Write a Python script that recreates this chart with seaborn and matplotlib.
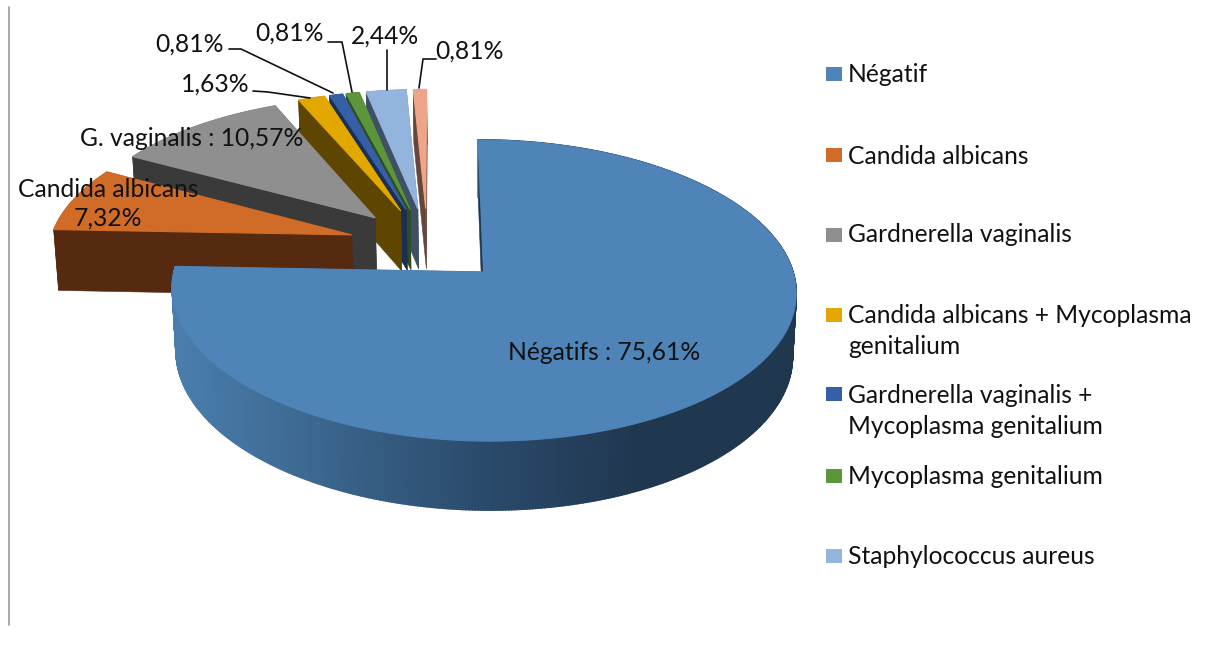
#!/usr/bin/env python3
import numpy as np
import seaborn as sns
import matplotlib
matplotlib.use('Agg')
import matplotlib.pyplot as plt

# slices, clockwise from 12 o'clock
shares = [75.61, 7.32, 10.57, 1.63, 0.81, 0.81, 2.44, 0.81]
legend_names = ['Négatif', 'Candida albicans', 'Gardnerella vaginalis',
                'Candida albicans + Mycoplasma\ngenitalium',
                'Gardnerella vaginalis +\nMycoplasma genitalium',
                'Mycoplasma genitalium', 'Staphylococcus aureus']
slice_labels = ['Négatifs : 75,61%', 'Candida albicans\n7,32%', 'G. vaginalis : 10,57%',
                '1,63%', '0,81%', '0,81%', '2,44%', '0,81%']
top_colors = ['#4f84b9', '#d06c28', '#8f8f8f', '#e2a800', '#3560a8', '#5c963c', '#93b4dc', '#eea68a']
wall_colors = ['#203750', '#552a10', '#3a3a3a', '#5e4600', '#1b2f55', '#2f4d1f', '#3f5064', '#66453a']

sns.set_theme(style='white')
plt.rcParams['font.family'] = ['Lato', 'DejaVu Sans']

fig = plt.figure(figsize=(12.18, 6.52), dpi=100)
ax = fig.add_axes([0, 0, 1, 1])

# the pie works out the angles and the exploded centres
wedges, _ = ax.pie(shares, startangle=90, counterclock=False, radius=1, explode=[0.262] * len(shares))
geom = [(w.center[0], w.center[1], w.theta1, w.theta2) for w in wedges]
for w in wedges:
    w.remove()
ax.set_aspect('auto')
ax.set_xlim(0, 1218)
ax.set_ylim(652, 0)
ax.axis('off')

origin = geom[0][:2]


# perspective view of the tilted pie, z=0 on the top face and z=1 on the bottom
def project(x, y, z=0.0):
    v = np.asarray(x) - origin[0]
    u = np.asarray(y) - origin[1]
    w = 1 + 0.123 * u + 0.012 * z
    return 483.5 + (309.5 * v - 6 * u) / w, 272 + (-148.3 * u + 63.3 * z) / w


def quad(xs, ys, color, lw=0.4):
    ax.fill(xs, ys, color=color, lw=lw)


def draw_slice(i):
    cx, cy, t1, t2 = geom[i]
    t = np.radians(np.linspace(t1, t2, max(int(t2 - t1) * 2, 6)))
    ox, oy = cx + np.cos(t), cy + np.sin(t)

    # cut faces
    for k in (0, -1):
        xa, ya = np.array([cx, ox[k]]), np.array([cy, oy[k]])
        x0, y0 = project(xa, ya, 0)
        x1, y1 = project(xa, ya, 1)
        quad(np.r_[x0, x1[::-1]], np.r_[y0, y1[::-1]], wall_colors[i])

    # outer face, shaded from left to right on the big slice
    x0, y0 = project(ox, oy, 0)
    x1, y1 = project(ox, oy, 1)
    if i == 0:
        shade = sns.blend_palette(['#4a7dac', '#3a648b', '#2a4a6b', '#203750', '#203750'], 200)
        for k in range(len(t) - 1):
            pos = np.clip((x0[k] - 178) / (790 - 178), 0, 1)
            quad([x0[k], x0[k + 1], x1[k + 1], x1[k]], [y0[k], y0[k + 1], y1[k + 1], y1[k]],
                 shade[int(pos * 199)], lw=1.2)
    else:
        quad(np.r_[x0, x1[::-1]], np.r_[y0, y1[::-1]], wall_colors[i])

    # top face
    ax_, ay_ = project(cx, cy, 0)
    quad(np.r_[ax_, x0], np.r_[ay_, y0], top_colors[i], lw=0.8)


# back to front
for i in [7, 6, 5, 4, 3, 2, 1, 0]:
    draw_slice(i)

# labels on the slices
label_xy = [(604, 352), (108, 204), (192, 139), (215, 84), (190, 44), (290, 33), (385, 36), (470, 51)]
for i, name in enumerate(slice_labels):
    ax.text(label_xy[i][0], label_xy[i][1], name, fontsize=17.7, color='#111111',
            ha='center', va='center', linespacing=1.3, zorder=5)

# leader lines
leaders = [
    ([253, 268, 310], [91, 92, 98]),
    ([229, 241, 333], [49, 49, 93]),
    ([328, 342, 352], [42, 42, 92]),
    ([387, 387], [50, 90]),
    ([436, 423, 419], [59, 59, 88]),
]
for lx, ly in leaders:
    ax.plot(lx, ly, color='#111111', lw=1.2, zorder=4)

# legend, the last slice has no entry
legend_y = [75, 156, 235, 331, 411, 477, 557]
marker_y = [74, 155, 235, 315, 394, 476, 556]
for i, name in enumerate(legend_names):
    ax.fill([826, 842, 842, 826], [marker_y[i] - 7, marker_y[i] - 7, marker_y[i] + 7, marker_y[i] + 7],
            color=top_colors[i], lw=0)
    ax.text(848, legend_y[i], name, fontsize=17.7, color='#111111', ha='left', va='center', linespacing=1.45)

# frame line on the left
ax.plot([9, 9], [7, 625], color='#999999', lw=1.2)

plt.savefig('out.png', dpi=100)
plt.close()
